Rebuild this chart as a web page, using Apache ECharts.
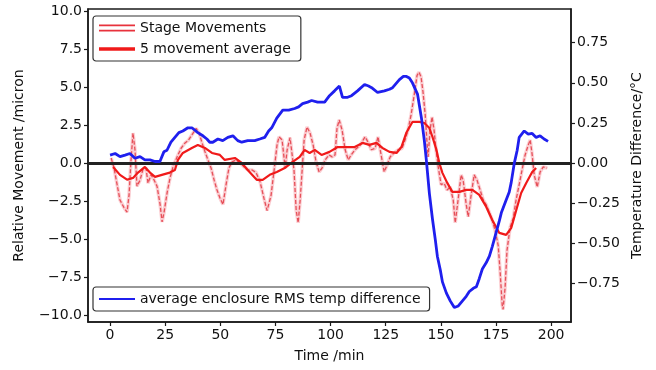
<!DOCTYPE html>
<html><head><meta charset="utf-8">
<script src="https://cdn.jsdelivr.net/npm/echarts@6/dist/echarts.min.js"></script>
<style>html,body{margin:0;padding:0;background:#fff}#c{width:656px;height:370px}</style>
</head><body><div id="c"></div>
<script>
// Stage movements (raw), time in min and movement in micron
const stageT = [0.5,1.8,3.2,4.5,6.3,7.7,8.6,9.5,10.4,11.3,12.2,13.6,14.9,16.3,17.2,18.6,20,21.3,22.7,23.6,24.5,25.9,27.2,28.6,30.4,32.2,34,35.4,37.2,39,40.4,41.7,43.1,44.4,45.8,47.2,48.5,49.9,51.2,52.6,53.9,55.3,57.1,59,60.8,62.6,64.4,66.2,68,69.8,71.2,72.1,73,74.4,75.7,76.6,78,79.4,80.3,81.6,82.5,83.4,84.4,85.3,86.2,87.1,88,89.3,90.7,92.1,93.4,94.8,96.1,97.5,99.3,100.7,102,102.9,103.9,105.2,106.6,108,109.3,111.1,113.4,115.6,117,118.4,120.2,121.5,122.9,124.3,125.6,127,128.8,130.6,132.4,133.8,135.1,136.5,137.9,139.2,140.1,141,141.9,142.9,143.8,144.2,145.1,146,146.9,147.8,148.8,150.1,151.5,152.8,154.2,155.6,156.5,157.8,159.2,160.1,161.5,162.4,163.7,165.1,166.4,167.8,169.2,170.5,171.9,173.2,174.6,176,176.9,177.8,178.2,179.1,180,181.4,182.8,184.1,185.5,186.8,188.2,189.6,190.5,191.4,192.3,193.7,195,196.4,198.2];
const stageV = [0.36,-0.3,-1.4,-2.4,-2.9,-3.2,-2.1,0.2,2.0,0.9,-1.5,-1.1,-0.4,-0.3,-1.3,-0.75,-1.1,-1.5,-2.7,-3.85,-3.2,-1.9,-0.95,-0.2,0.43,1.0,1.35,1.5,1.9,2.3,2.0,1.35,0.75,0.23,-0.3,-1.1,-1.75,-2.3,-2.7,-1.4,-0.3,0.1,0.23,0.03,-0.23,-0.43,-0.43,-0.6,-1.2,-2.3,-3.1,-3.2,-2.1,-0.43,1.2,1.75,1.55,-0.3,0.9,1.7,1.75,-0.43,-3.1,-3.9,-2.4,-0.43,1.55,2.4,2.0,1.2,0.1,-0.56,-0.3,0.23,0.56,0.43,0.56,2.3,2.86,2.2,0.9,0.23,0.56,0.9,1.2,1.75,1.4,0.9,1.0,1.75,0.56,-0.56,-0.1,0.43,0.7,0.9,1.0,1.55,2.2,3.2,4.5,5.8,6.0,5.7,4.7,3.2,1.2,0.43,2.2,3.06,2.2,0.9,-0.23,-1.4,-1.3,-1.75,-1.55,-2.4,-3.9,-2.4,-0.75,-1.1,-2.7,-3.5,-2.1,-0.75,-1.1,-1.75,-2.4,-2.7,-3.2,-3.7,-4.4,-5.4,-7.2,-9.3,-9.6,-8.2,-5.7,-4.2,-3.6,-2.4,-1.4,-0.43,0.56,1.2,1.55,0.56,-0.75,-1.55,-0.56,-0.23,-0.3];
// 5 movement average
const avgT = [1.4,4.5,7.7,10.4,12.7,15.8,18.1,20.4,23.5,27.1,29.4,30.8,33,37.1,39.8,43,46.2,49.8,52,56.6,59.7,62.4,66.5,69.2,72.4,75.6,79.2,82.8,86,88.2,90.5,92.8,95.9,99.5,103.2,106.3,110.9,114.5,117.6,120.8,123.5,126.7,129.9,132.1,134.4,137.1,140.3,142.5,144.8,146.2,148,149.3,150.7,152.9,155.2,158.4,161.5,164.3,167.4,170.6,173.3,176.5,179.6,181.9,184.2,186.4,188.7,191.4,193.2];
const avgV = [-0.23,-0.75,-1.07,-0.95,-0.6,-0.23,-0.6,-0.88,-0.75,-0.6,-0.43,0.23,0.69,1.02,1.22,1.02,0.69,0.56,0.23,0.36,0.03,-0.43,-1.08,-1.08,-0.75,-0.56,-0.3,0.1,0.43,0.89,0.69,0.89,0.56,0.76,1.08,1.08,1.08,1.35,1.22,1.35,1.02,0.76,0.69,1.08,2.04,2.73,2.73,2.66,2.33,1.74,0.89,0.03,-0.62,-1.28,-1.87,-1.87,-1.74,-1.74,-2.07,-2.86,-3.72,-4.57,-4.7,-4.24,-3.06,-1.94,-1.28,-0.56,-0.3];
// Average enclosure RMS temperature difference (right axis, °C)
const tempT = [0,2.3,4.5,6.8,9,11.3,13.6,15.8,18.1,20.4,22.6,24.4,25.8,27.6,29.4,31.2,33,35.3,37.1,39.8,42.1,43.9,45.2,46.6,48.9,51.1,53.4,55.7,57.9,59.7,62.4,65.6,67.9,70.1,71.9,73.3,75.6,78.3,81,83.7,85.5,87.3,89.6,91.4,94.1,97.3,99.5,101.8,104,105.4,107.7,109.5,112.2,115.4,117.2,118.6,121.3,124.4,126.7,128.1,131.2,133,134.4,135.7,137.1,139.4,141.2,142.5,143.4,144.8,146.2,147.5,148.4,149.8,150.7,152.5,154.3,156.1,157.9,159.7,161.5,162.9,164.7,166.1,167.4,168.8,170.6,172,173.3,175.1,176.5,177.4,179.6,181,181.9,183.3,184.6,185.5,187.8,189.6,191.4,193.2,195,196.8,198.6];
const tempV = [0.05,0.06,0.04,0.05,0.06,0.03,0.04,0.02,0.02,0.01,0.01,0.07,0.08,0.13,0.16,0.19,0.2,0.22,0.22,0.19,0.17,0.15,0.13,0.13,0.15,0.14,0.16,0.17,0.14,0.13,0.14,0.14,0.15,0.16,0.2,0.22,0.28,0.33,0.33,0.34,0.35,0.37,0.38,0.39,0.38,0.38,0.42,0.45,0.48,0.41,0.41,0.42,0.45,0.49,0.48,0.47,0.44,0.45,0.46,0.47,0.52,0.54,0.54,0.53,0.5,0.43,0.28,0.14,0.02,-0.19,-0.35,-0.48,-0.58,-0.67,-0.74,-0.81,-0.86,-0.9,-0.89,-0.86,-0.83,-0.8,-0.78,-0.77,-0.72,-0.66,-0.62,-0.58,-0.52,-0.43,-0.36,-0.31,-0.23,-0.18,-0.12,0,0.08,0.16,0.2,0.18,0.185,0.16,0.17,0.15,0.135];
const xTicks = [0,25,50,75,100,125,150,175,200];
const yLeftTicks = [-10,-7.5,-5,-2.5,0,2.5,5,7.5,10];
const yRightTicks = [-0.75,-0.5,-0.25,0,0.25,0.5,0.75];

const zip = (a,b) => a.map((v,i)=>[v,b[i]]);
const minus = s => s.replace('-', '\u2212');
const FONT = 'DejaVu Sans';
const DARK = '#1a1a1a';
const FS = 14;

const chart = echarts.init(document.getElementById('c'), null, {renderer:'canvas'});
chart.setOption({
  animation:false,
  backgroundColor:'#fff',
  textStyle:{fontFamily:FONT},
  grid:{left:88,right:85,top:9,bottom:48,show:true,borderColor:DARK,borderWidth:1.5,backgroundColor:'transparent'},
  legend:[
    {left:93,top:16,orient:'vertical',itemGap:7,itemWidth:36,itemHeight:8,
     padding:[5,10,5,6],borderColor:'#333',borderWidth:1.2,borderRadius:3,backgroundColor:'#fff',
     textStyle:{fontFamily:FONT,fontSize:FS,color:'#111'},
     data:[{name:'Stage Movements',icon:'path://M0,0L40,0L40,2L0,2Z M0,6L40,6L40,8L0,8Z'},
           {name:'5 movement average',icon:'path://M0,2L40,2L40,6L0,6Z'}]},
    {left:93,top:287,orient:'vertical',itemWidth:36,itemHeight:3,
     padding:[5,9,5,6],borderColor:'#333',borderWidth:1.2,borderRadius:3,backgroundColor:'#fff',
     textStyle:{fontFamily:FONT,fontSize:FS,color:'#111'},
     data:[{name:'average enclosure RMS temp difference',icon:'path://M0,0L40,0L40,2L0,2Z'}]}
  ],
  xAxis:{type:'value',min:-10,max:209,name:'Time /min',nameLocation:'middle',nameGap:27,
    nameTextStyle:{fontFamily:FONT,fontSize:FS,color:'#111'},
    axisLine:{show:true,onZero:false,lineStyle:{color:DARK,width:1.5}},
    axisTick:{show:true,length:4,customValues:xTicks,lineStyle:{color:DARK,width:1.2}},
    axisLabel:{customValues:xTicks,fontFamily:FONT,fontSize:FS,color:'#111',margin:6,formatter:v=>String(v)},
    splitLine:{show:false}},
  yAxis:[
    {type:'value',min:-10.43,max:10.16,position:'left',name:'Relative Movement /micron',nameLocation:'middle',nameGap:62,nameRotate:90,
     nameTextStyle:{fontFamily:FONT,fontSize:FS,color:'#111'},
     axisLine:{show:true,onZero:false,lineStyle:{color:DARK,width:1.5}},
     axisTick:{show:true,length:4,customValues:yLeftTicks,lineStyle:{color:DARK,width:1.2}},
     axisLabel:{customValues:yLeftTicks,fontFamily:FONT,fontSize:FS,color:'#111',margin:6,formatter:v=>minus(v.toFixed(1))},
     splitLine:{show:false}},
    {type:'value',min:-0.99,max:0.96,position:'right',name:'Temperature Difference/\u00B0C',nameLocation:'middle',nameGap:53,nameRotate:90,
     nameTextStyle:{fontFamily:FONT,fontSize:FS,color:'#111'},
     axisLine:{show:true,onZero:false,lineStyle:{color:DARK,width:1.5}},
     axisTick:{show:true,length:4,customValues:yRightTicks,lineStyle:{color:DARK,width:1.2}},
     axisLabel:{customValues:yRightTicks,fontFamily:FONT,fontSize:FS,color:'#111',margin:6,formatter:v=>minus(v.toFixed(2))},
     splitLine:{show:false}}
  ],
  series:[
    {name:'stage-under',type:'line',yAxisIndex:0,data:zip(stageT,stageV),showSymbol:false,
     lineStyle:{color:'#f7a6ad',width:3.5,opacity:0.55},z:2,silent:true},
    {name:'Stage Movements',type:'line',yAxisIndex:0,data:zip(stageT,stageV),showSymbol:false,
     color:'#e8323c',lineStyle:{color:'#e23a44',width:1.3,type:[4,2],opacity:0.85},z:3},
    {name:'5 movement average',type:'line',yAxisIndex:0,data:zip(avgT,avgV),showSymbol:false,
     color:'#f01a1a',lineStyle:{color:'#f01a1a',width:2.2},z:4,
     markLine:{silent:true,symbol:'none',label:{show:false},lineStyle:{color:'#222',width:3,type:'solid'},
       data:[{yAxis:0}]}},
    {name:'average enclosure RMS temp difference',type:'line',yAxisIndex:1,data:zip(tempT,tempV),showSymbol:false,
     color:'#1f1fee',lineStyle:{color:'#1f1fee',width:2.8},z:5}
  ]
});
</script></body></html>
